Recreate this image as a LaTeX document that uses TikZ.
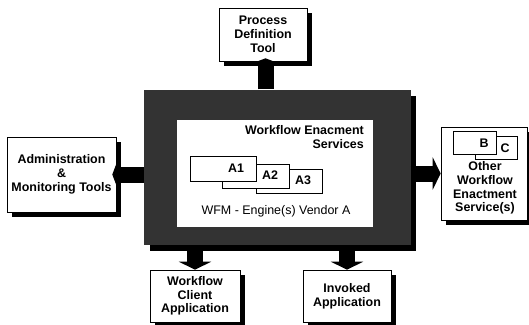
\documentclass[tikz,border=0pt]{standalone}
\usepackage{fontspec}
\setmainfont{Liberation Sans}
\usetikzlibrary{arrows.meta,shadows,calc}
\begin{document}
\begin{tikzpicture}[x=1bp,y=-1bp,
  lbl/.style={font=\bfseries\fontsize{12.5}{13.8}\selectfont, align=center, inner sep=0pt},
  plain/.style={font=\fontsize{12.5}{13.8}\selectfont, inner sep=0pt},
  wbox/.style={draw, line width=0.6bp, fill=white, inner sep=0pt,
    general shadow={fill=black, shadow xshift=5bp, shadow yshift=-5bp}},
  tbox/.style={draw, line width=0.5bp, fill=white, inner sep=0pt},
  blockarrow/.style={line width=16bp, -{Triangle[width=32bp,length=8bp]}},
  smallarrow/.style={line width=16bp, -{Triangle[width=21bp,length=4bp]}}]
\useasboundingbox (0,0) rectangle (529,324);

% central engine block
\node[fill=black!80, inner sep=0pt, minimum width=266.5bp, minimum height=155.5bp,
  general shadow={fill=black, shadow xshift=5.5bp, shadow yshift=-6bp}] (core) at (277.25,167.25) {};
\node[fill=white, inner sep=0pt, minimum width=196bp, minimum height=107bp] (inner) at (275,173.5) {};
\node[lbl, align=right, anchor=east] (wes) at (364,137) {Workflow Enacment\\Services};
\node[tbox, minimum width=66bp, minimum height=24bp] (a3) at (289,181) {};
\node[tbox, minimum width=67bp, minimum height=24bp] (a2) at (255.5,176) {};
\node[tbox, minimum width=66bp, minimum height=25bp] (a1) at (223,168.5) {};
\node[lbl] (a1l) at (236,168) {A1};
\node[lbl] (a2l) at (270,175.5) {A2};
\node[lbl] (a3l) at (303,180.5) {A3};
\node[plain] (wfm) at (276,211) {WFM - Engine(s) Vendor A};

% surrounding boxes
\node[wbox, lbl, minimum width=88bp, minimum height=53bp] (process) at (263,34.5) {Process\\Definition\\Tool};
\node[wbox, lbl, minimum width=109bp, minimum height=75bp] (admin) at (61.5,174.5) {Administration\\\&\\Monitoring Tools};
\node[wbox, minimum width=86bp, minimum height=93bp] (other) at (484,173.5) {};
\node[tbox, minimum width=42bp, minimum height=23bp] (c) at (496,147.5) {};
\node[tbox, minimum width=43bp, minimum height=23bp] (b) at (474.5,142.5) {};
\node[lbl] (bl) at (484,143) {B};
\node[lbl] (cl) at (505,148) {C};
\node[lbl] (otherl) at (485,188) {Other\\Workflow\\Enactment\\Service(s)};
\node[wbox, lbl, minimum width=90bp, minimum height=52bp] (client) at (195,296) {Workflow\\Client\\Application};
\node[wbox, lbl, minimum width=88bp, minimum height=52bp] (invoked) at (347,296) {Invoked\\Application};

% connectors
\draw[smallarrow] ([xshift=2.5bp]process.south |- core.north) -- ([xshift=2.5bp,yshift=3bp]process.south);
\draw[smallarrow] (core.west |- admin.east) -- ([xshift=-4bp]admin.east);
\draw[blockarrow] (core.east |- other.west) -- (other.west);
\draw[blockarrow] (client.north |- core.south) -- (client.north);
\draw[blockarrow] (invoked.north |- core.south) -- (invoked.north);
\end{tikzpicture}
\end{document}
